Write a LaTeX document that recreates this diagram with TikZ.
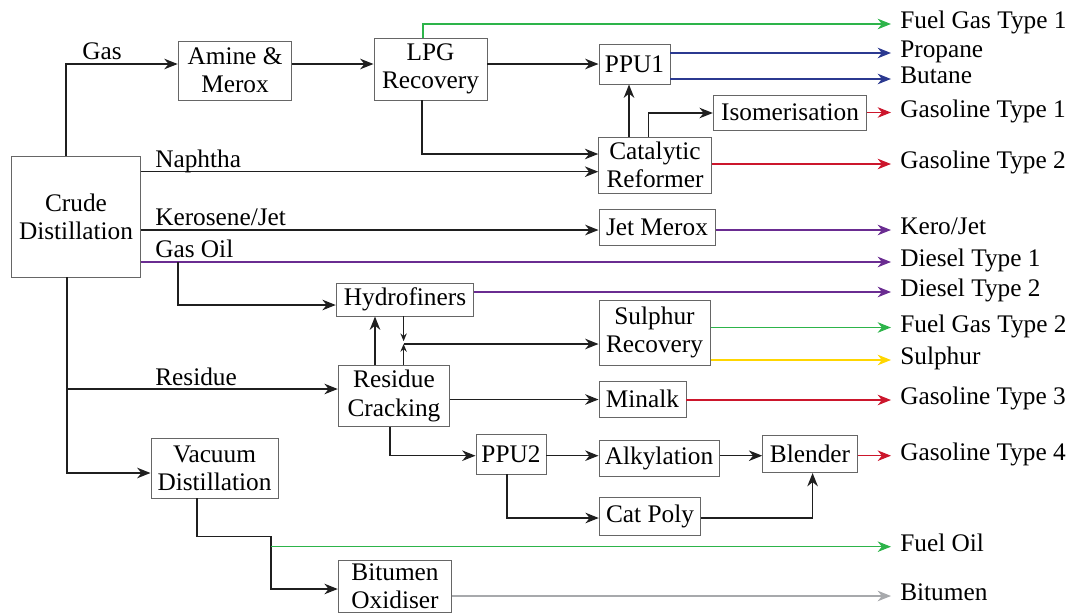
\documentclass[tikz,border=0pt]{standalone}
\usepackage{fontspec}
\setmainfont{Liberation Serif}
\usetikzlibrary{arrows.meta}

\definecolor{gasgreen}{RGB}{45,180,74}
\definecolor{lpgblue}{RGB}{43,57,144}
\definecolor{petrolred}{RGB}{204,22,44}
\definecolor{dieselpurple}{RGB}{106,44,145}
\definecolor{sulyellow}{RGB}{255,214,0}
\definecolor{bitgrey}{RGB}{167,169,172}
\newcommand{\pu}{0.025cm}

\tikzset{
  unit/.style={draw=black!60, line width=0.7pt, fill=white, align=center, inner sep=1pt},
  flow/.style={draw=black!88, line width=0.95pt, -{Stealth[length=9.5pt,width=7.5pt,inset=3pt]}},
  minor/.style={draw=black!88, line width=0.9pt, -{Stealth[length=5.5pt,width=4.5pt,inset=1.8pt]}},
  prod/.style={line width=0.85pt, -{Stealth[length=9.5pt,width=7.5pt,inset=3pt]}},
  lbl/.style={inner sep=0pt, anchor=base west},
  prodlbl/.style={anchor=west, inner xsep=9*\pu, inner ysep=0pt, text height=0.66em, text depth=0pt}
}

\begin{document}
\begin{tikzpicture}[x=\pu, y=-\pu, font=\fontsize{18}{20}\selectfont]
  \useasboundingbox (0,0) rectangle (1079,612);

  % process units
  \node[unit, minimum width=128.5*\pu, minimum height=121*\pu] (crude) at (76,216.5) {Crude\\Distillation};
  \node[unit, minimum width=113.7*\pu, minimum height=59*\pu] (amine) at (235,70.5) {Amine \&\\Merox};
  \node[unit, minimum width=113*\pu, minimum height=62*\pu] (lpg) at (430.5,69) {LPG\\Recovery};
  \node[unit, minimum width=71*\pu, minimum height=40*\pu] (ppu1) at (634.5,64) {PPU1};
  \node[unit, minimum width=153.4*\pu, minimum height=35*\pu] (iso) at (790,112.5) {Isomerisation};
  \node[unit, minimum width=112.5*\pu, minimum height=56*\pu] (cat) at (655,165) {Catalytic\\Reformer};
  \node[unit, minimum width=116*\pu, minimum height=36*\pu] (jet) at (657,227) {Jet Merox};
  \node[unit, minimum width=137.5*\pu, minimum height=33*\pu] (hydro) at (405,299.5) {Hydrofiners};
  \node[unit, minimum width=111*\pu, minimum height=65*\pu] (sul) at (654.5,332.5) {Sulphur\\Recovery};
  \node[unit, minimum width=111.5*\pu, minimum height=61*\pu] (rc) at (394,396) {Residue\\Cracking};
  \node[unit, minimum width=87*\pu, minimum height=36*\pu] (minalk) at (642.5,399) {Minalk};
  \node[unit, minimum width=70*\pu, minimum height=40*\pu] (ppu2) at (511,454) {PPU2};
  \node[unit, minimum width=120*\pu, minimum height=36*\pu] (alk) at (659,458) {Alkylation};
  \node[unit, minimum width=94.6*\pu, minimum height=37*\pu] (blend) at (810,454) {Blender};
  \node[unit, minimum width=101.5*\pu, minimum height=38*\pu] (cpoly) at (650,516) {Cat Poly};
  \node[unit, minimum width=127*\pu, minimum height=60*\pu] (vac) at (214.5,468) {Vacuum\\Distillation};
  \node[unit, minimum width=113.5*\pu, minimum height=52*\pu] (bit) at (395,586) {Bitumen\\Oxidiser};

  % products
  \node[prodlbl] (fg1) at (891,24) {Fuel Gas Type 1};
  \node[prodlbl] (prop) at (891,53) {Propane};
  \node[prodlbl] (but) at (891,79) {Butane};
  \node[prodlbl] (gs1) at (891,112.5) {Gasoline Type 1};
  \node[prodlbl] (gs2) at (891,164) {Gasoline Type 2};
  \node[prodlbl] (kj) at (891,230) {Kero/Jet};
  \node[prodlbl] (d1) at (891,262) {Diesel Type 1};
  \node[prodlbl] (d2) at (891,292) {Diesel Type 2};
  \node[prodlbl] (fg2) at (891,327.5) {Fuel Gas Type 2};
  \node[prodlbl] (sulp) at (891,360) {Sulphur};
  \node[prodlbl] (gs3) at (891,400) {Gasoline Type 3};
  \node[prodlbl] (gs4) at (891,455.7) {Gasoline Type 4};
  \node[prodlbl] (fo) at (891,546.7) {Fuel Oil};
  \node[prodlbl] (bitu) at (891,596) {Bitumen};

  % crude cuts
  \coordinate (gasT) at (66,64);
  \coordinate (nap) at (0,171.7);
  \coordinate (ker) at (0,230);
  \coordinate (goD) at (178,305);
  \coordinate (resF) at (67,389);
  \coordinate (vacF) at (67,473);

  \draw[flow] (crude.north -| gasT) |- (amine.west |- gasT);
  \draw[flow] (amine.east |- gasT) -- (lpg.west |- gasT);
  \draw[flow] (lpg.east |- gasT) -- (ppu1.west |- gasT);
  \draw[flow] (crude.east |- nap) -- (cat.west |- nap);
  \draw[flow] (crude.east |- ker) -- (jet.west |- ker);
  \draw[prod, dieselpurple] (crude.east |- d1) -- (d1.west);
  \draw[flow] (goD |- d1) |- (hydro.west |- goD);
  \draw[flow] (crude.south -| vacF) |- (vac.west |- vacF);
  \draw[flow] (resF) -- (rc.west |- resF);

  \node[lbl] (lgas) at (82,59) {Gas};
  \node[lbl] (lnap) at (155,167) {Naphtha};
  \node[lbl] (lker) at (155,225) {Kerosene/Jet};
  \node[lbl] (lgo) at (155,257) {Gas Oil};
  \node[lbl] (lres) at (155,385) {Residue};

  % light ends
  \coordinate (lpgG) at (423,0);
  \coordinate (lpgB) at (422,154);
  \coordinate (cpU) at (629,0);
  \coordinate (isoK) at (648.6,113);
  \draw[prod, gasgreen] (lpg.north -| lpgG) |- (fg1.west);
  \draw[flow] (lpg.south -| lpgB) |- (cat.west |- lpgB);
  \draw[flow] (cat.north -| cpU) -- (ppu1.south -| cpU);
  \draw[flow] (cat.north -| isoK) |- (iso.west |- isoK);
  \draw[prod, lpgblue] (ppu1.east |- prop) -- (prop.west);
  \draw[prod, lpgblue] (ppu1.east |- but) -- (but.west);
  \draw[prod, petrolred] (iso.east |- gs1) -- (gs1.west);
  \draw[prod, petrolred] (cat.east |- gs2) -- (gs2.west);
  \draw[prod, dieselpurple] (jet.east |- kj) -- (kj.west);
  \draw[prod, dieselpurple] (hydro.east |- d2) -- (d2.west);

  % residue train
  \coordinate (rcU) at (375,0);
  \coordinate (hsJ) at (403.6,344);
  \coordinate (mnk) at (0,399.5);
  \coordinate (rcD) at (390,455.7);
  \coordinate (cpF) at (507,518);
  \coordinate (cpB) at (812.6,518);
  \draw[flow] (rc.north -| rcU) -- (hydro.south -| rcU);
  \draw[minor] (hydro.south -| hsJ) -- ([yshift=2pt]hsJ);
  \draw[minor] (rc.north -| hsJ) -- (hsJ);
  \draw[flow] (hsJ) -- (sul.west |- hsJ);
  \draw[prod, gasgreen] (sul.east |- fg2) -- (fg2.west);
  \draw[prod, sulyellow] (sul.east |- sulp) -- (sulp.west);
  \draw[flow] (rc.east |- mnk) -- (minalk.west |- mnk);
  \draw[prod, petrolred] (minalk.east |- gs3) -- (gs3.west);
  \draw[flow] (rc.south -| rcD) |- (ppu2.west |- rcD);
  \draw[flow] (ppu2.east |- rcD) -- (alk.west |- rcD);
  \draw[flow] (alk.east |- rcD) -- (blend.west |- rcD);
  \draw[prod, petrolred] (blend.east |- gs4) -- (gs4.west);
  \draw[flow] (ppu2.south -| cpF) |- (cpoly.west |- cpF);
  \draw[flow] (cpoly.east |- cpB) -| (blend.south -| cpB);

  % vacuum bottoms
  \coordinate (vk1) at (197,536.7);
  \coordinate (vk2) at (271,536.7);
  \coordinate (vk3) at (271,589);
  \coordinate (foS) at (271,546.7);
  \draw[flow] (vac.south -| vk1) -- (vk1) -- (vk2) -- (vk3) -- (bit.west |- vk3);
  \draw[prod, gasgreen] (foS) -- (fo.west);
  \draw[prod, bitgrey] (bit.east |- bitu) -- (bitu.west);
\end{tikzpicture}
\end{document}
